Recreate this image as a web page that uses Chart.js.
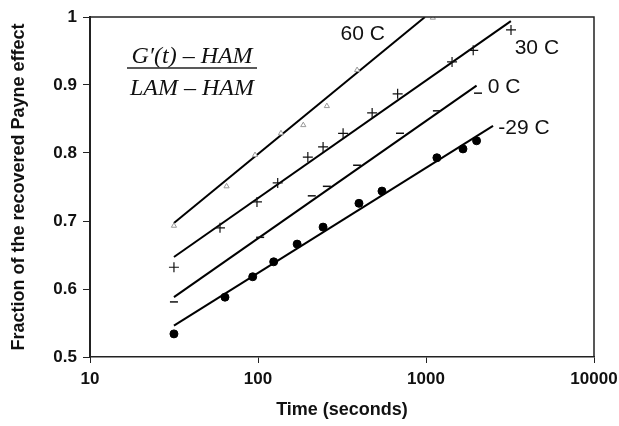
<!DOCTYPE html>
<html>
<head>
<meta charset="utf-8">
<script src="https://cdn.jsdelivr.net/npm/chart.js@4.4.1/dist/chart.umd.min.js"></script>
<style>
  html, body { margin: 0; padding: 0; background: #fff; }
  #wrap { width: 619px; height: 426px; }
</style>
</head>
<body>
<div id="wrap"><canvas id="chart" width="619" height="426"></canvas></div>
<script>
// Data (time in seconds, fraction recovered)
const xTicks = [10, 100, 1000, 10000];
const yTicks = [0.5, 0.6, 0.7, 0.8, 0.9, 1];

const t60 = [31.6, 65, 96, 137, 186, 257, 389, 1098];
const v60 = [0.693, 0.751, 0.797, 0.829, 0.841, 0.869, 0.922, 0.999];
const fit60 = [[31.6, 0.697], [986, 1.0]];

const t30 = [31.6, 59.4, 98.6, 131, 198, 244, 321, 478, 678, 1429, 1910, 3206];
const v30 = [0.632, 0.690, 0.728, 0.756, 0.794, 0.809, 0.829, 0.859, 0.887, 0.934, 0.951, 0.981];
const fit30 = [[31.6, 0.647], [3200, 0.994]];

const t0 = [31.6, 103, 209, 257, 389, 700, 1161, 2040];
const v0 = [0.581, 0.676, 0.737, 0.751, 0.782, 0.829, 0.862, 0.888];
const fit0 = [[31.6, 0.588], [2000, 0.899]];

const tm29 = [31.6, 63.6, 93, 124, 171, 244, 399, 547, 1161, 1660, 2000];
const vm29 = [0.534, 0.588, 0.618, 0.640, 0.666, 0.691, 0.726, 0.744, 0.793, 0.806, 0.818];
const fitm29 = [[31.6, 0.546], [2506, 0.840]];

const seriesLabels = ['60 C', '30 C', '0 C', '-29 C'];

// Helpers
const pts = (xs, ys) => xs.map((x, i) => ({ x, y: ys[i] }));
const line = (p) => p.map(([x, y]) => ({ x, y }));
const FONT = 'Liberation Sans, Arial, sans-serif';

/* ---------- Annotation plugin ---------- */
const labelPos = [
  { text: seriesLabels[0], x: 420, y: 0.974 },
  { text: seriesLabels[1], x: 4570, y: 0.954 },
  { text: seriesLabels[2], x: 2912, y: 0.897 },
  { text: seriesLabels[3], x: 3830, y: 0.837 }
];

const annotations = {
  id: 'annotations',
  afterDraw(chart) {
    const { ctx, chartArea: a, scales: { x, y } } = chart;
    ctx.save();
    // frame
    ctx.strokeStyle = '#222';
    ctx.lineWidth = 1.5;
    ctx.beginPath();
    ctx.moveTo(a.left, a.top); ctx.lineTo(a.right, a.top); ctx.lineTo(a.right, a.bottom);
    ctx.stroke();

    // curve labels
    ctx.fillStyle = '#111';
    ctx.font = `21px ${FONT}`;
    ctx.textAlign = 'center';
    ctx.textBaseline = 'middle';
    labelPos.forEach((l) => ctx.fillText(l.text, x.getPixelForValue(l.x), y.getPixelForValue(l.y)));

    // fraction
    const cx = a.left + 102;
    ctx.font = `italic 24px Liberation Serif, Times New Roman, serif`;
    ctx.textBaseline = 'alphabetic';
    ctx.fillText('G\u2032(t) \u2013 HAM', cx, a.top + 46);
    ctx.fillText('LAM \u2013 HAM', cx, a.top + 78);
    ctx.lineWidth = 1.5;
    ctx.beginPath();
    ctx.moveTo(cx - 65, a.top + 51); ctx.lineTo(cx + 65, a.top + 51);
    ctx.stroke();
    ctx.restore();
  }
};

/* ---------- Chart ---------- */
new Chart(document.getElementById('chart'), {
  type: 'scatter',
  data: {
    datasets: [
      { label: seriesLabels[0], data: pts(t60, v60), pointStyle: 'triangle', pointRadius: 3, borderColor: '#999', backgroundColor: '#fff', borderWidth: 1 },
      { label: seriesLabels[1], data: pts(t30, v30), pointStyle: 'cross', pointRadius: 5, borderColor: '#111', borderWidth: 1.2 },
      { label: seriesLabels[2], data: pts(t0, v0), pointStyle: 'line', pointRadius: 4, borderColor: '#111', borderWidth: 1.5 },
      { label: seriesLabels[3], data: pts(tm29, vm29), pointStyle: 'circle', pointRadius: 4, borderColor: '#000', backgroundColor: '#000', borderWidth: 1 },
      { data: line(fit60), showLine: true, pointRadius: 0, borderColor: '#000', borderWidth: 2 },
      { data: line(fit30), showLine: true, pointRadius: 0, borderColor: '#000', borderWidth: 2 },
      { data: line(fit0), showLine: true, pointRadius: 0, borderColor: '#000', borderWidth: 2 },
      { data: line(fitm29), showLine: true, pointRadius: 0, borderColor: '#000', borderWidth: 2 }
    ]
  },
  options: {
    responsive: false,
    animation: false,
    layout: { padding: { top: 17, right: 25, left: 0, bottom: 0 } },
    plugins: { legend: { display: false }, tooltip: { enabled: false } },
    scales: {
      x: {
        type: 'logarithmic',
        min: 10, max: 10000,
        afterBuildTicks: (s) => { s.ticks = xTicks.map((v) => ({ value: v })); },
        afterFit: (s) => { s.height = 69; s.paddingRight = 0; s.paddingLeft = 0; },
        ticks: { color: '#111', font: { family: FONT, size: 17, weight: 'bold' }, padding: 6, maxRotation: 0,
          callback: (v) => String(v) },
        grid: { drawOnChartArea: false, drawTicks: true, tickLength: 6, color: '#222' },
        border: { color: '#222', width: 1.5 },
        title: { display: true, text: 'Time (seconds)', color: '#111',
          font: { family: FONT, size: 18, weight: 'bold' }, padding: { top: 0, bottom: 5 } }
      },
      y: {
        min: 0.5, max: 1,
        afterBuildTicks: (s) => { s.ticks = yTicks.map((v) => ({ value: v })); },
        afterFit: (s) => { s.width = 90; },
        ticks: { color: '#111', font: { family: FONT, size: 17, weight: 'bold' }, padding: 6,
          callback: (v) => String(v) },
        grid: { drawOnChartArea: false, drawTicks: true, tickLength: 7, color: '#222' },
        border: { color: '#222', width: 2 },
        title: { display: true, text: 'Fraction of the recovered Payne effect', color: '#111',
          font: { family: FONT, size: 18, weight: 'bold' }, padding: { top: 8, bottom: 0 } }
      }
    }
  },
  plugins: [annotations]
});
</script>
</body>
</html>
